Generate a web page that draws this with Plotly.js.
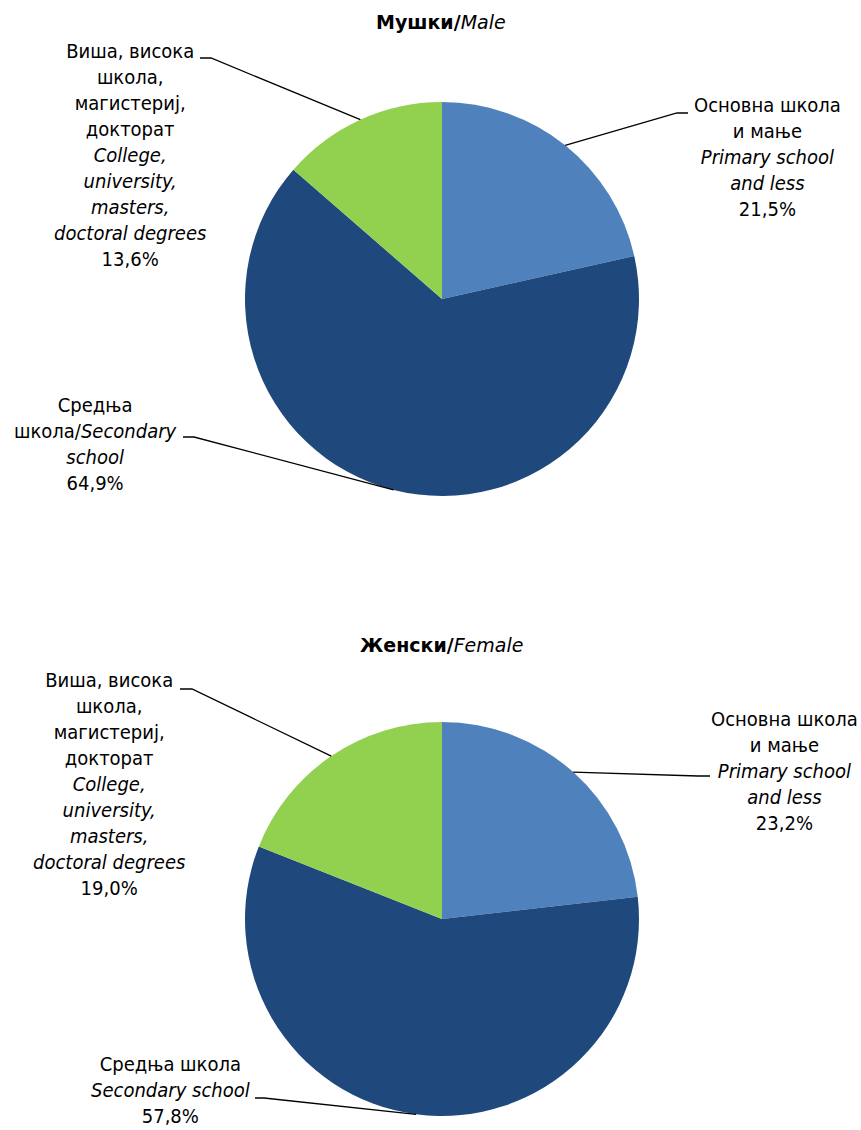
<!DOCTYPE html>
<html>
<head>
<meta charset="utf-8">
<script src="https://cdn.plot.ly/plotly-3.0.1.min.js"></script>
<style>html,body{margin:0;padding:0;background:#fff;}#chart{width:861px;height:1130px;}</style>
</head>
<body>
<div id="chart"></div>
<script>
// ---- data ----
const categories = ["Primary school and less", "Secondary school", "College, university, masters, doctoral degrees"];
const maleLabelLines = [
  ["Основна школа", "и мање", "<i>Primary school</i>", "<i>and less</i>"],
  ["Средња", "школа/<i>Secondary</i>", "<i>school</i>"],
  ["Виша, висока", "школа,", "магистериј,", "докторат", "<i>College,</i>", "<i>university,</i>", "<i>masters,</i>", "<i>doctoral degrees</i>"]
];
const femaleLabelLines = [
  ["Основна школа", "и мање", "<i>Primary school</i>", "<i>and less</i>"],
  ["Средња школа", "<i>Secondary school</i>"],
  ["Виша, висока", "школа,", "магистериј,", "докторат", "<i>College,</i>", "<i>university,</i>", "<i>masters,</i>", "<i>doctoral degrees</i>"]
];
const maleValues = [21.5, 64.9, 13.6];
const femaleValues = [23.2, 57.8, 19.0];
const maleTitle = "<b>Мушки/</b><i>Male</i>";
const femaleTitle = "<b>Женски/</b><i>Female</i>";
const colors = ["#4F81BD", "#1F497D", "#92D050"];

// ---- layout constants ----
const W = 861, H = 1130;
const FONT = "'DejaVu Sans Condensed', 'DejaVu Sans', sans-serif";
const TITLE_FONT = "'DejaVu Sans', sans-serif";
const pies = [
  {values: maleValues, lines: maleLabelLines, title: maleTitle, titleY: 22,
   dom: {x: [245, 639], y: [102, 496]},
   labels: [
     {cx: 767, cy: 157.5, start: [688, 113], elbow: [677, 113]},
     {cx: 95, cy: 444, start: [183, 437], elbow: [194, 437]},
     {cx: 130, cy: 155, start: [200, 58], elbow: [211, 58]}
   ]},
  {values: femaleValues, lines: femaleLabelLines, title: femaleTitle, titleY: 645,
   dom: {x: [245, 639], y: [722, 1116]},
   labels: [
     {cx: 784, cy: 770.5, start: [710, 776], elbow: [698, 776]},
     {cx: 170.5, cy: 1090, start: [255, 1098], elbow: [264, 1098]},
     {cx: 109, cy: 784, start: [180, 689], elbow: [192, 689]}
   ]}
];

const px2x = v => v / W;
const px2y = v => 1 - v / H;
const fmtPct = v => v.toFixed(1).replace('.', ',') + '%';

const traces = [];
const annotations = [];
const shapes = [];

pies.forEach(p => {
  traces.push({
    type: 'pie',
    labels: categories,
    values: p.values,
    sort: false,
    direction: 'clockwise',
    rotation: 0,
    textinfo: 'none',
    hoverinfo: 'none',
    showlegend: false,
    marker: {colors: colors, line: {width: 0}},
    domain: {x: [px2x(p.dom.x[0]), px2x(p.dom.x[1])], y: [px2y(p.dom.y[1]), px2y(p.dom.y[0])]}
  });
  annotations.push({
    xref: 'paper', yref: 'paper', x: px2x(441), y: px2y(p.titleY),
    xanchor: 'center', yanchor: 'middle', showarrow: false,
    text: p.title, font: {family: TITLE_FONT, size: 19, color: '#000'}
  });
  const total = p.values.reduce((a, b) => a + b, 0);
  const pcx = (p.dom.x[0] + p.dom.x[1]) / 2;
  const pcy = (p.dom.y[0] + p.dom.y[1]) / 2;
  const r = (p.dom.x[1] - p.dom.x[0]) / 2;
  let cum = 0;
  p.values.forEach((v, i) => {
    const mid = (cum + v / 2) / total * 2 * Math.PI;
    cum += v;
    const ex = pcx + r * Math.sin(mid);
    const ey = pcy - r * Math.cos(mid);
    const L = p.labels[i];
    const text = p.lines[i].concat([fmtPct(v)]).join('<br>');
    annotations.push({
      xref: 'paper', yref: 'paper', x: px2x(L.cx), y: px2y(L.cy),
      xanchor: 'center', yanchor: 'middle', align: 'center', showarrow: false,
      text: text, font: {family: FONT, size: 20, color: '#000'}
    });
    shapes.push({
      type: 'path', xref: 'paper', yref: 'paper',
      path: 'M ' + px2x(L.start[0]) + ',' + px2y(L.start[1]) +
            ' L ' + px2x(L.elbow[0]) + ',' + px2y(L.elbow[1]) +
            ' L ' + px2x(ex) + ',' + px2y(ey),
      line: {color: '#000', width: 1.3}
    });
  });
});

Plotly.newPlot('chart', traces, {
  width: W, height: H,
  margin: {l: 0, r: 0, t: 0, b: 0},
  paper_bgcolor: '#fff',
  annotations: annotations,
  shapes: shapes
}, {staticPlot: true});
</script>
</body>
</html>
